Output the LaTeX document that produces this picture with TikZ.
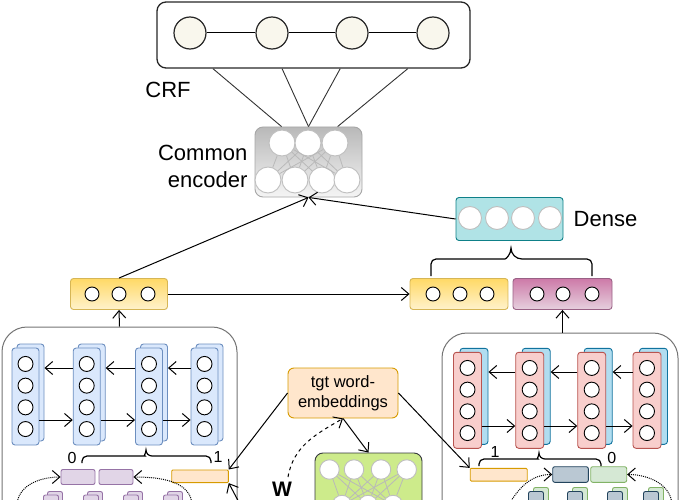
\documentclass[tikz,border=0pt]{standalone}
\usepackage{fontspec}
\setmainfont{Liberation Sans}
\usetikzlibrary{arrows.meta,positioning,calc,shapes}

\definecolor{crffill}{HTML}{F9F7ED}
\definecolor{blufill}{HTML}{DAE8FC}
\definecolor{bluline}{HTML}{6C8EBF}
\definecolor{redfill}{HTML}{F8CECC}
\definecolor{redline}{HTML}{B85450}
\definecolor{cyanfill}{HTML}{B1DDF0}
\definecolor{cyanline}{HTML}{10739E}
\definecolor{tealfill}{HTML}{B0E3E6}
\definecolor{tealline}{HTML}{0E8088}
\definecolor{yeltop}{HTML}{FFD966}
\definecolor{yelbot}{HTML}{FFF2CC}
\definecolor{yelline}{HTML}{D6B656}
\definecolor{pinktop}{HTML}{CD7AA8}
\definecolor{pinkbot}{HTML}{E6D0DE}
\definecolor{pinkline}{HTML}{996185}
\definecolor{orgfill}{HTML}{FFE6CC}
\definecolor{orgline}{HTML}{D79B00}
\definecolor{purfill}{HTML}{E1D5E7}
\definecolor{purline}{HTML}{9673A6}
\definecolor{slafill}{HTML}{BAC8D3}
\definecolor{slaline}{HTML}{23445D}
\definecolor{grnfill}{HTML}{D5E8D4}
\definecolor{grnline}{HTML}{82B366}
\definecolor{limefill}{HTML}{CDEB8B}
\definecolor{limeline}{HTML}{36393D}

\newcommand{\dobrace}[4]{\draw[line width=1.2pt] (#1) [rounded corners=5pt] |- ($(#3)+(-#4,#4)$) [sharp corners]
    to[out=0,in=-90] (#3) to[out=-90,in=180] ($(#3)+(#4,#4)$) [rounded corners=5pt] -| (#2);}

\begin{document}
\begin{tikzpicture}[x=1pt,y=-1pt]
\tikzstyle{unit}=[circle, draw=black, fill=white, line width=0.9pt, inner sep=0pt, minimum size=15pt]
\tikzstyle{softunit}=[circle, draw=gray!50, fill=white, line width=0.9pt, inner sep=0pt]
\tikzstyle{crfunit}=[circle, draw=black!85, fill=crffill, line width=1.2pt, inner sep=0pt, minimum size=32pt]
\tikzstyle{layer}=[rectangle, rounded corners=3pt, line width=0.9pt, inner sep=0pt]
\tikzstyle{yelbox}=[layer, draw=yelline, top color=yeltop, bottom color=yelbot, minimum width=97pt, minimum height=31pt]
\tikzstyle{pinkbox}=[layer, draw=pinkline, top color=pinktop, bottom color=pinkbot, minimum width=99pt, minimum height=31pt]
\tikzstyle{lfront}=[layer, draw=bluline, fill=blufill, minimum width=27pt, minimum height=97pt]
\tikzstyle{rfront}=[layer, draw=redline, fill=redfill, minimum width=28pt, minimum height=96pt]
\tikzstyle{rback}=[layer, draw=cyanline, fill=cyanfill, minimum width=28pt, minimum height=96pt]
\tikzstyle{panel}=[rectangle, rounded corners=25pt, draw=black!55, line width=1pt, minimum width=235pt, minimum height=233pt]
\tikzstyle{minibox}=[layer, rounded corners=2pt, minimum width=15pt, minimum height=15pt]
\tikzstyle{connect}=[-{Straight Barb[length=7.5pt,width=13pt]}, line width=1pt]
\tikzstyle{dotconn}=[connect, densely dotted]
\tikzstyle{dashconn}=[connect, dash pattern=on 3.5pt off 3.5pt]
\tikzstyle{lbl}=[font=\fontsize{22}{27}\selectfont, inner sep=0pt, align=center]
\tikzstyle{num}=[font=\fontsize{16}{18}\selectfont, inner sep=0pt]
\tikzstyle{mesh}=[gray!55, line width=0.8pt]

  \clip (0,0) rectangle (680,500);

  \node[rectangle, rounded corners=9pt, draw=black!85, line width=1.3pt, minimum width=313pt, minimum height=66pt] (crf) at (313.5,35) {};
  \foreach \i/\x in {1/190,2/272,3/352,4/433}
    \node[crfunit] (crf\i) at (\x,33) {};
  \draw[line width=1pt] (crf1) -- (crf2) -- (crf3) -- (crf4);
  \node[lbl] (crflbl) at (168,90) {CRF};

  \node[rectangle, rounded corners=8pt, draw=gray!70, line width=0.9pt, top color=gray!55, bottom color=gray!8, minimum width=107pt, minimum height=70pt] (enc) at (308.5,162) {};
  \foreach \i/\x in {1/282,2/308,3/335}
    \node[softunit, minimum size=26pt] (et\i) at (\x,143) {};
  \foreach \i/\x in {1/268,2/295,3/322,4/347}
    \node[softunit, minimum size=26pt] (eb\i) at (\x,180) {};
  \foreach \t in {1,2,3}
    \foreach \b in {1,...,4}
      \draw[mesh] (et\t) -- (eb\b);
  \node[lbl, align=right] (enclbl) [left=7pt of enc, yshift=-4pt] {Common\\encoder};

  \foreach \a/\b in {0.18/0.25,0.40/0.5,0.585/0.5,0.80/0.77}
    \draw[line width=0.9pt, black!80] ($(crf.south west)!\a!(crf.south east)$) -- ($(enc.north west)!\b!(enc.north east)$);

  \node[layer, draw=tealline, fill=tealfill, minimum width=107pt, minimum height=43pt] (dense) at (509.5,219) {};
  \foreach \i/\x in {1/470,2/497,3/523,4/550}
    \node[softunit, minimum size=23pt] (d\i) at (\x,218) {};
  \node[lbl] (denselbl) [right=10pt of dense] {Dense};

  \node[yelbox] (yl) at (119,294) {};
  \node[yelbox, minimum width=98pt] (ym) at (459,294) {};
  \node[pinkbox] (pk) at (562.5,294) {};
  \foreach \n/\x in {yl/92,yl/119,yl/148,ym/433,ym/460,ym/487,pk/537,pk/563,pk/592}
    \node[unit, minimum size=14pt] (\n\x) at (\x,294) {};

  \coordinate (dl) at (431,276);
  \coordinate (dr) at (592,276);
  \coordinate (dt) at (511,248);
  \dobrace{dl}{dr}{dt}{11}

  \draw[connect] (yl.north) -- (enc.south);
  \draw[connect] (dense.west) -- (enc.south);
  \draw[connect] (yl.east) -- (ym.west);

  \node[panel] (lp) at (119.5,443.5) {};
  \node[panel, minimum width=236pt] (rp) at (560,449.5) {};
  \draw[connect] (lp.north) -- (yl.south);
  \draw[connect] (rp.north -| pk.south) -- (pk.south);

  \foreach \i/\x in {1/25.5,2/86.7,3/149,4/204.5}{
    \node[lfront] (lb\i) at (\x+5,392.5) {};
    \node[lfront] (lf\i) at (\x,396.5) {};
    \foreach \k in {1,...,4}
      \node[unit] (lu\i\k) at (\x,{396.5+(\k-2.5)*21.7}) {};
  }
  \foreach \i/\j in {1/2,2/3,3/4}{
    \draw[connect] ([yshift=28.5pt]lf\j.west) -- ([xshift=5pt,yshift=28.5pt]lf\i.east);
    \draw[connect] ([yshift=-23.5pt]lf\i.east) -- ([yshift=-23.5pt]lf\j.west);
  }

  \foreach \i/\x in {1/467.5,2/529.7,3/591.7,4/647}{
    \node[rback] (rb\i) at (\x+6.5,396.3) {};
    \node[rfront] (rf\i) at (\x,400.3) {};
    \foreach \k in {1,...,4}
      \node[unit] (ru\i\k) at (\x,{400.5+(\k-2.5)*21.7}) {};
  }
  \foreach \i/\j in {1/2,2/3,3/4}{
    \draw[connect] ([yshift=28.3pt]rf\j.west) -- ([xshift=6.5pt,yshift=28.3pt]rf\i.east);
    \draw[connect] ([yshift=-25.7pt]rf\i.east) -- ([yshift=-25.7pt]rf\j.west);
  }

  \node[layer, rounded corners=2pt, draw=purline, fill=purfill, minimum width=34pt, minimum height=15pt] (pu1) at (78,477) {};
  \node[layer, rounded corners=2pt, draw=purline, fill=purfill, minimum width=34pt, minimum height=15pt] (pu2) at (116,477) {};
  \node[layer, rounded corners=1pt, draw=orgline, fill=orgfill, minimum width=56.6pt, minimum height=12.7pt] (or1) at (200,476.3) {};
  \node[num] (lzero) at (72,458) {0};
  \node[num] (lone) at (218,457) {1};
  \coordinate (ll) at (82,463);
  \coordinate (lr) at (211,463);
  \coordinate (lt) at (146,450);
  \dobrace{ll}{lr}{lt}{6}
  \foreach \i/\x in {1/51,2/91,3/131,4/171}{
    \node[minibox, draw=purline, fill=purfill] (psb\i) at (\x+4,499) {};
    \node[minibox, draw=purline, fill=purfill] (psf\i) at (\x,502.5) {};
  }
  \coordinate (ldl) at (17,506);
  \coordinate (ldr) at (192,506);
  \draw[dotconn] (ldl) to[out=90,in=180] (pu1.west);
  \draw[dotconn] (ldr) to[out=90,in=0] (pu2.east);

  \node[layer, rounded corners=1pt, draw=orgline, fill=orgfill, minimum width=57pt, minimum height=12.7pt] (or2) at (498.7,474.7) {};
  \node[layer, rounded corners=2pt, draw=slaline, fill=slafill, minimum width=35.6pt, minimum height=15.6pt] (gb) at (570.5,474.5) {};
  \node[layer, rounded corners=2pt, draw=grnline, fill=grnfill, minimum width=36pt, minimum height=15.6pt] (gr) at (608.7,474.5) {};
  \node[num] (rone) at (495,452) {1};
  \node[num] (rzero) at (611.7,458) {0};
  \coordinate (rl) at (479,466);
  \coordinate (rr) at (601,466);
  \coordinate (rt) at (539,453);
  \dobrace{rl}{rr}{rt}{6}
  \foreach \i/\x in {1/536,2/575,3/615,4/651}{
    \node[minibox, draw=grnline, fill=grnfill] (qsb\i) at (\x+5,495) {};
    \node[minibox, draw=slaline, fill=slafill] (qsf\i) at (\x,499) {};
  }
  \coordinate (rdl) at (508,506);
  \coordinate (rdr) at (672,506);
  \draw[dotconn] (rdl) to[out=60,in=180] (gb.west);
  \draw[dotconn] (rdr) to[out=90,in=0] (gr.east);

  \node[layer, rounded corners=6pt, draw=orgline, fill=orgfill, minimum width=110pt, minimum height=50pt, font=\fontsize{16.5}{19.5}\selectfont, align=center] (tgt) at (343,393) {tgt word-\\embeddings};

  \node[layer, rounded corners=8pt, draw=limeline, fill=limefill, minimum width=107pt, minimum height=90pt] (ge) at (368.5,498) {};
  \foreach \i/\x in {1/329.5,2/354,3/381,4/406.7}
    \node[softunit, minimum size=19.5pt] (gu\i) at (\x,469.5) {};
  \foreach \i/\x in {1/342,2/368,3/393}
    \node[softunit, minimum size=19.5pt] (gd\i) at (\x,505) {};
  \foreach \t in {1,...,4}
    \foreach \b in {1,2,3}
      \draw[mesh] (gu\t) -- (gd\b);

  \node[font=\bfseries\fontsize{21}{24}\selectfont, inner sep=0pt] (wlbl) at (282,489) {W};
  \coordinate (wtop) at (288,477);
  \draw[dashconn] (wtop) to[out=80,in=210] (tgt.south);

  \draw[connect] (tgt.west) -- (or1.north east);
  \coordinate (lin) at (242,508);
  \draw[connect] (lin) -- (or1.south east);
  \draw[connect] (tgt.south) -- (ge.north);
  \draw[connect] (tgt.east) -- (or2.north west);

\end{tikzpicture}
\end{document}
